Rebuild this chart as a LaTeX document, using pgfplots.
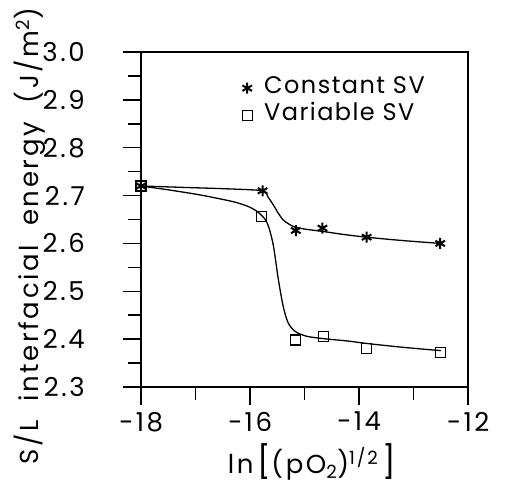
\documentclass[border=0pt]{standalone}
\usepackage{fontspec}
\setmainfont{Poppins}[LetterSpace=10]
\newfontfamily\legfont{Poppins}[LetterSpace=6]
\usepackage{pgfplots}
\pgfplotsset{compat=1.18}
\newcommand\bigf{\fontsize{26bp}{30bp}\selectfont}
\newcommand\legf{\legfont\fontsize{24bp}{28bp}\selectfont}
\begin{document}
\begin{tikzpicture}
\useasboundingbox (-141bp,-101bp) rectangle (364bp,387bp);
\begin{axis}[
  scale only axis,
  width=327bp, height=335bp,
  xmin=-18, xmax=-12, ymin=2.3, ymax=3.0,
  axis line style={line width=1.5bp},
  every tick/.style={line width=1.5bp, black},
  tick align=outside,
  major tick length=18bp, minor tick length=13bp,
  xtick pos=bottom, ytick pos=left,
  xtick={-18,-16,-14,-12},
  xticklabels={−18,−16,−14,−12},
  minor xtick={-17,-15,-13},
  ytick={2.3,2.4,2.5,2.6,2.7,2.8,2.9,3.0},
  yticklabels={2.3,2.4,2.5,2.6,2.7,2.8,2.9,3.0},
  minor ytick={2.35,2.45,2.55,2.65,2.75,2.85,2.95},
  yticklabel style={font=\bigf, anchor=east, inner sep=0pt, xshift=-38bp},
  xticklabel style={font=\bigf, anchor=north, inner sep=0pt, yshift=-7bp},
  ylabel={S/L\ \ interfacial\ \ energy\ \ (J/m\textsuperscript{2})},
  ylabel style={font=\bigf, at={(axis description cs:-0.34,0.45)}, anchor=center, rotate=0},
  xlabel={ln\,{\fontsize{32bp}{32bp}\selectfont[}(pO\textsubscript{2})\textsuperscript{1/2}\,{\fontsize{32bp}{32bp}\selectfont]}},
  xlabel style={font=\bigf, at={(axis description cs:0.523,-0.258)}, anchor=base},
  legend style={draw=none, fill=none, at={(axis description cs:0.309,0.927)}, anchor=north west,
    inner sep=0pt, row sep=4bp, column sep=8bp,
    nodes={inner xsep=4bp, inner ysep=0pt, text height=17bp, text depth=6bp}},
  legend cell align=left,
]
% fitted curves
\addplot[black, line width=1.3bp, smooth, tension=0.45, forget plot] coordinates {
(-18,2.720) (-17.2,2.717) (-16.4,2.714) (-15.77,2.710) (-15.67,2.697) (-15.57,2.680)
(-15.48,2.663) (-15.39,2.649) (-15.28,2.640) (-15.17,2.634) (-15.0,2.630) (-14.66,2.625)
(-14.3,2.619) (-13.86,2.613) (-13.2,2.606) (-12.5,2.600)};
\addplot[black, line width=1.3bp, smooth, tension=0.45, forget plot] coordinates {
(-18,2.720) (-17.5,2.712) (-16.9,2.701) (-16.3,2.687) (-16.03,2.677) (-15.86,2.666)
(-15.72,2.650) (-15.65,2.632) (-15.57,2.595) (-15.48,2.525) (-15.39,2.468) (-15.30,2.434)
(-15.17,2.416) (-14.96,2.406) (-14.65,2.401) (-14.2,2.396) (-13.86,2.391) (-13.2,2.383) (-12.5,2.376)};
% data points
\addplot[only marks, mark=asterisk, mark size=5.5bp, mark options={line width=2bp, black}] coordinates {
(-18,2.720) (-15.77,2.710) (-15.16,2.627) (-14.67,2.632) (-13.86,2.613) (-12.51,2.600)};
\addlegendentry{\legf Constant\ SV}
\addplot[only marks, mark=square, mark size=5bp, mark options={line width=1.3bp, black, fill=white}] coordinates {
(-18,2.720) (-15.79,2.657) (-15.16,2.398) (-14.65,2.406) (-13.86,2.381) (-12.50,2.372)};
\addlegendentry{\legf Variable\ SV}
\end{axis}
\end{tikzpicture}
\end{document}
